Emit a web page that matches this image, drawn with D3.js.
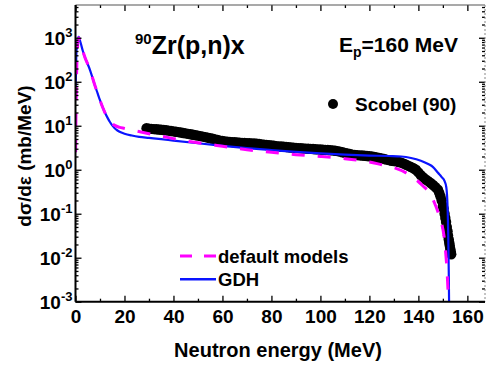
<!DOCTYPE html>
<html>
<head>
<meta charset="utf-8">
<script src="https://cdn.jsdelivr.net/npm/d3@7"></script>
<style>
  html, body { margin: 0; padding: 0; background: #fff; }
  svg { display: block; font-family: 'Liberation Sans', Arial, sans-serif; font-weight: bold; }
</style>
</head>
<body>
<div id="chart"></div>
<script>
// Scobel (90) data: neutron energy (MeV), cross section (mb/MeV)
const SCOBEL_E = [29, 30, 31, 32, 33, 34, 35, 36, 37, 38, 39, 40, 41, 42, 43, 44, 45, 46, 47, 48,
  49, 50, 51, 52, 53, 54, 55, 56, 57, 58, 59, 60, 61, 62, 63, 64, 65, 66, 67, 68,
  69, 70, 71, 72, 73, 74, 75, 76, 77, 78, 79, 80, 81, 82, 83, 84, 85, 86, 87, 88,
  89, 90, 91, 92, 93, 94, 95, 96, 97, 98, 99, 100, 101, 102, 103, 104, 105, 106, 107, 108,
  109, 110, 111, 112, 113, 114, 115, 116, 117, 118, 119, 120, 121, 122, 123, 124, 125, 126, 127, 128,
  129, 130, 131, 132, 133, 134, 135, 136, 137, 138, 139, 140, 141, 142, 143, 144, 145, 146, 147, 148,
  148.5, 149, 149.5, 150, 150.3, 150.7, 151, 151.3, 151.6, 151.9, 152.1, 152.4, 152.6, 152.8, 153, 153.2, 153.4]
const SCOBEL_V = [8.8, 8.6, 8.5, 8.4, 8.3, 8.2, 8.1, 8.0, 7.9, 7.75, 7.6, 7.45, 7.3, 7.15, 7.0, 6.85, 6.7, 6.55, 6.4, 6.25,
  6.1, 5.95, 5.8, 5.65, 5.5, 5.35, 5.2, 5.05, 4.9, 4.75, 4.6, 4.5, 4.4, 4.35, 4.3, 4.25, 4.2, 4.15, 4.1, 4.08,
  4.05, 4.02, 4.0, 3.97, 3.95, 3.9, 3.85, 3.78, 3.7, 3.65, 3.6, 3.55, 3.5, 3.45, 3.4, 3.38, 3.35, 3.3, 3.25, 3.2,
  3.15, 3.12, 3.1, 3.08, 3.05, 3.02, 3.0, 2.98, 2.95, 2.92, 2.9, 2.88, 2.85, 2.82, 2.8, 2.78, 2.75, 2.7, 2.65, 2.58,
  2.5, 2.42, 2.35, 2.28, 2.2, 2.18, 2.15, 2.12, 2.1, 2.08, 2.05, 2.02, 2.0, 1.95, 1.9, 1.85, 1.8, 1.75, 1.7, 1.65,
  1.6, 1.58, 1.55, 1.5, 1.45, 1.38, 1.3, 1.22, 1.15, 1.08, 1.0, 0.87, 0.75, 0.67, 0.6, 0.55, 0.5, 0.45, 0.4, 0.35,
  0.3, 0.25, 0.2, 0.15, 0.13, 0.1, 0.08, 0.065, 0.05, 0.04, 0.032, 0.026, 0.022, 0.019, 0.016, 0.014, 0.012]

// default models (dashed magenta)
const DEF_E = [0.05, 0.2, 0.5, 0.9, 1.3, 2, 3, 4, 5, 6, 7, 8, 9, 10, 11, 12, 13, 14, 15, 16, 18, 20, 22, 25,
  30, 35, 40, 45, 50, 55, 60, 65, 70, 80, 90, 100, 110, 115, 120, 125, 130, 135, 139, 142, 144.5, 146.5,
  148, 149.5, 150.5, 151.2, 151.7, 152.1, 152.4]
const DEF_V = [2.5, 20, 200, 700, 1000, 800, 500, 340, 250, 180, 120, 80, 55, 38, 27, 20, 15.5, 12.8, 11.2, 10.2, 9.2, 8.7, 8.2, 7.6,
  6.6, 5.8, 5.1, 4.5, 4.1, 3.75, 3.4, 3.1, 2.85, 2.5, 2.2, 2.0, 1.78, 1.65, 1.5, 1.3, 1.12, 0.85, 0.6, 0.42, 0.3, 0.18,
  0.11, 0.06, 0.03, 0.012, 0.005, 0.0018, 0.0008]

// GDH (solid blue)
const GDH_E = [0.05, 0.4, 0.9, 1.3, 2, 3, 4, 5, 6, 7, 8, 9, 10, 11, 12, 13, 14, 15, 16, 17, 18, 20, 23, 26,
  30, 35, 40, 50, 60, 70, 80, 90, 100, 110, 120, 128, 133, 137, 141, 144, 146, 148, 149.5, 150.7,
  151.4, 151.9, 152.2, 152.4, 152.55]
const GDH_V = [60, 500, 900, 1050, 800, 500, 340, 250, 180, 120, 80, 55, 38, 27, 20, 15.5, 12.3, 10.2, 8.8, 7.9, 7.3, 6.6, 6.0, 5.6,
  5.3, 4.95, 4.6, 4.0, 3.5, 3.1, 2.8, 2.55, 2.35, 2.2, 2.1, 2.05, 2.0, 1.85, 1.6, 1.35, 1.15, 0.85, 0.68, 0.55,
  0.4, 0.15, 0.03, 0.005, 0.0008]

const X_TICKS = [0, 20, 40, 60, 80, 100, 120, 140, 160]
const Y_EXPONENTS = [-3, -2, -1, 0, 1, 2, 3]

const WIDTH = 489
const HEIGHT = 367
const PLOT = { left: 75.5, right: 485, top: 5, bottom: 301.7 }
const MAGENTA = '#ff00ff'
const BLUE = '#0a14ff'

const svg = d3.select('#chart').append('svg')
  .attr('width', WIDTH)
  .attr('height', HEIGHT)

const x = d3.scaleLinear().domain([0, 167.2]).range([PLOT.left, PLOT.right])
const y = d3.scaleLog().domain([1e-3, Math.pow(10, 3.745)]).range([PLOT.bottom, PLOT.top])

svg.append('clipPath').attr('id', 'clip')
  .append('rect')
  .attr('x', PLOT.left).attr('y', PLOT.top)
  .attr('width', PLOT.right - PLOT.left).attr('height', PLOT.bottom - PLOT.top)

const plot = svg.append('g').attr('clip-path', 'url(#clip)')

// data points
const scobel = SCOBEL_E.map((e, i) => ({ e, v: SCOBEL_V[i] }))
plot.append('g').selectAll('circle')
  .data(scobel)
  .join('circle')
  .attr('cx', d => x(d.e))
  .attr('cy', d => y(d.v))
  .attr('r', 5.2)
  .attr('fill', '#000')

const line = d3.line()
  .x(d => x(d.e))
  .y(d => y(d.v))
  .curve(d3.curveMonotoneX)

plot.append('path')
  .datum(GDH_E.map((e, i) => ({ e, v: GDH_V[i] })))
  .attr('d', line)
  .attr('fill', 'none')
  .attr('stroke', BLUE)
  .attr('stroke-width', 2.2)

plot.append('path')
  .datum(DEF_E.map((e, i) => ({ e, v: DEF_V[i] })))
  .attr('d', line)
  .attr('fill', 'none')
  .attr('stroke', MAGENTA)
  .attr('stroke-width', 3)
  .attr('stroke-dasharray', '13,13')

// axes
const minorX = [10, 30, 50, 70, 90, 110, 130, 150]
const yMinor = []
Y_EXPONENTS.forEach(p => {
  for (let k = 2; k <= 9; k++) {
    const v = k * Math.pow(10, p)
    if (v < y.domain()[1]) yMinor.push(v)
  }
})

const styleAxis = g => {
  g.select('.domain').remove()
  g.selectAll('line').attr('stroke', '#000').attr('stroke-width', 1.3)
}

// bottom
svg.append('g')
  .attr('transform', `translate(0,${PLOT.bottom})`)
  .call(d3.axisBottom(x).tickValues(X_TICKS).tickSize(-6).tickPadding(8).tickFormat(d3.format('d')))
  .call(styleAxis)
  .call(g => g.selectAll('text')
    .attr('font-size', 19).attr('font-weight', 'bold').attr('font-family', 'Liberation Sans, Arial, sans-serif')
    .attr('fill', '#000'))
svg.append('g')
  .attr('transform', `translate(0,${PLOT.bottom})`)
  .call(d3.axisBottom(x).tickValues(minorX).tickSize(-3).tickFormat(''))
  .call(styleAxis)

// top
svg.append('g')
  .attr('transform', `translate(0,${PLOT.top})`)
  .call(d3.axisTop(x).tickValues(X_TICKS).tickSize(-6).tickFormat(''))
  .call(styleAxis)
svg.append('g')
  .attr('transform', `translate(0,${PLOT.top})`)
  .call(d3.axisTop(x).tickValues(minorX).tickSize(-3).tickFormat(''))
  .call(styleAxis)

// left
const yMajor = Y_EXPONENTS.map(p => Math.pow(10, p))
const leftAxis = svg.append('g')
  .attr('transform', `translate(${PLOT.left},0)`)
  .call(d3.axisLeft(y).tickValues(yMajor).tickSize(-6).tickFormat(''))
  .call(styleAxis)
svg.append('g')
  .attr('transform', `translate(${PLOT.left},0)`)
  .call(d3.axisLeft(y).tickValues(yMinor).tickSize(-3).tickFormat(''))
  .call(styleAxis)

leftAxis.selectAll('.tick').each(function (d, i) {
  const t = d3.select(this).append('text')
    .attr('x', -3)
    .attr('y', 7)
    .attr('text-anchor', 'end')
    .attr('fill', '#000')
    .attr('font-size', 19)
  t.append('tspan').text('10')
  t.append('tspan').attr('font-size', 13).attr('dy', -8).text(Y_EXPONENTS[i])
})

// right
svg.append('g')
  .attr('transform', `translate(${PLOT.right},0)`)
  .call(d3.axisRight(y).tickValues(yMajor).tickSize(-6).tickFormat(''))
  .call(styleAxis)
svg.append('g')
  .attr('transform', `translate(${PLOT.right},0)`)
  .call(d3.axisRight(y).tickValues(yMinor).tickSize(-3).tickFormat(''))
  .call(styleAxis)

// frame
svg.append('line')
  .attr('x1', PLOT.left).attr('x2', PLOT.right).attr('y1', PLOT.top).attr('y2', PLOT.top)
  .attr('stroke', '#555').attr('stroke-width', 1.2)
svg.append('line')
  .attr('x1', PLOT.right).attr('x2', PLOT.right).attr('y1', PLOT.top).attr('y2', PLOT.bottom)
  .attr('stroke', '#888').attr('stroke-width', 1).attr('stroke-dasharray', '2,2')
svg.append('line')
  .attr('x1', PLOT.left).attr('x2', PLOT.right).attr('y1', PLOT.bottom).attr('y2', PLOT.bottom)
  .attr('stroke', '#000').attr('stroke-width', 2)
svg.append('line')
  .attr('x1', PLOT.left).attr('x2', PLOT.left).attr('y1', PLOT.top).attr('y2', PLOT.bottom)
  .attr('stroke', '#000').attr('stroke-width', 2)

// axis titles
svg.append('text')
  .attr('x', 278).attr('y', 357)
  .attr('text-anchor', 'middle')
  .attr('font-size', 20)
  .text('Neutron energy (MeV)')

svg.append('text')
  .attr('transform', 'translate(31,156) rotate(-90)')
  .attr('text-anchor', 'middle')
  .attr('font-size', 19)
  .text('dσ/dε (mb/MeV)')

// title and beam energy
const title = svg.append('text').attr('x', 135).attr('y', 54).attr('font-size', 25)
title.append('tspan').attr('font-size', 15).attr('dy', -10).text('90')
title.append('tspan').attr('dy', 10).text('Zr(p,n)x')

const ep = svg.append('text').attr('x', 339).attr('y', 52).attr('font-size', 21)
ep.append('tspan').text('E')
ep.append('tspan').attr('font-size', 14).attr('dy', 5).text('p')
ep.append('tspan').attr('dy', -5).text('=160 MeV')

// legends
svg.append('circle').attr('cx', 333).attr('cy', 104).attr('r', 5).attr('fill', '#000')
svg.append('text').attr('x', 355).attr('y', 111).attr('font-size', 19).text('Scobel (90)')

svg.append('line')
  .attr('x1', 180).attr('x2', 216).attr('y1', 256).attr('y2', 256)
  .attr('stroke', MAGENTA).attr('stroke-width', 3).attr('stroke-dasharray', '12,12')
svg.append('text').attr('x', 218).attr('y', 262.5).attr('font-size', 18.5).text('default models')

svg.append('line')
  .attr('x1', 180).attr('x2', 216).attr('y1', 279.3).attr('y2', 279.3)
  .attr('stroke', BLUE).attr('stroke-width', 2.5)
svg.append('text').attr('x', 218).attr('y', 286).attr('font-size', 18.5).text('GDH')
</script>
</body>
</html>
